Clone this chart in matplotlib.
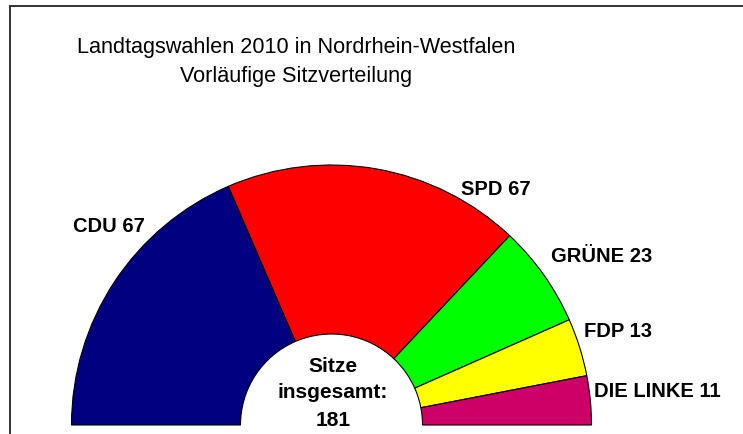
import matplotlib.pyplot as plt

# Sitzverteilung Landtag NRW 2010
parteien = ['CDU', 'SPD', 'GRÜNE', 'FDP', 'DIE LINKE']
sitze = [67, 67, 23, 13, 11]
farben = ['#000080', '#FF0000', '#00FF00', '#FFFF00', '#CC0066']
gesamt = sum(sitze)

plt.rcParams['font.family'] = ['Liberation Sans', 'DejaVu Sans']

W, H = 743, 435
fig = plt.figure(figsize=(W / 100, H / 100), dpi=100)
ax = fig.add_axes([0, 0, 1, 1])

# Halbkreis: unsichtbares Segment fuer die untere Haelfte
mitte = (331.5, H - 426)
wedges, _ = ax.pie(sitze + [gesamt], colors=farben + ['white'],
                   startangle=180, counterclock=False,
                   center=mitte, radius=260,
                   wedgeprops=dict(width=169, edgecolor='black', linewidth=0.8))
wedges[-1].set_visible(False)

ax.set_xlim(0, W)
ax.set_ylim(0, H)
ax.set_aspect('equal')
ax.axis('off')

# Rahmen (oben und links)
ax.plot([10, 10, W], [0, H - 6.5, H - 6.5], color='#222222', lw=1.3,
        solid_joinstyle='miter')

# Titel
ax.text(296, H - 53, 'Landtagswahlen 2010 in Nordrhein-Westfalen',
        ha='center', va='baseline', fontsize=15.6)
ax.text(296, H - 82, 'Vorläufige Sitzverteilung',
        ha='center', va='baseline', fontsize=15.6)

# Beschriftungen
label_pos = [(73, 232), (461, 195), (551, 262), (584, 337), (594, 397)]
for name, n, (x, y) in zip(parteien, sitze, label_pos):
    ax.text(x, H - y, f'{name} {n}', ha='left', va='baseline',
            fontsize=14.5, fontweight='bold')

# Mitte
for txt, y in zip(['Sitze', 'insgesamt:', str(gesamt)], [372, 398, 426]):
    ax.text(333, H - y, txt, ha='center', va='baseline',
            fontsize=15, fontweight='bold')

plt.savefig('out.png', dpi=100)
